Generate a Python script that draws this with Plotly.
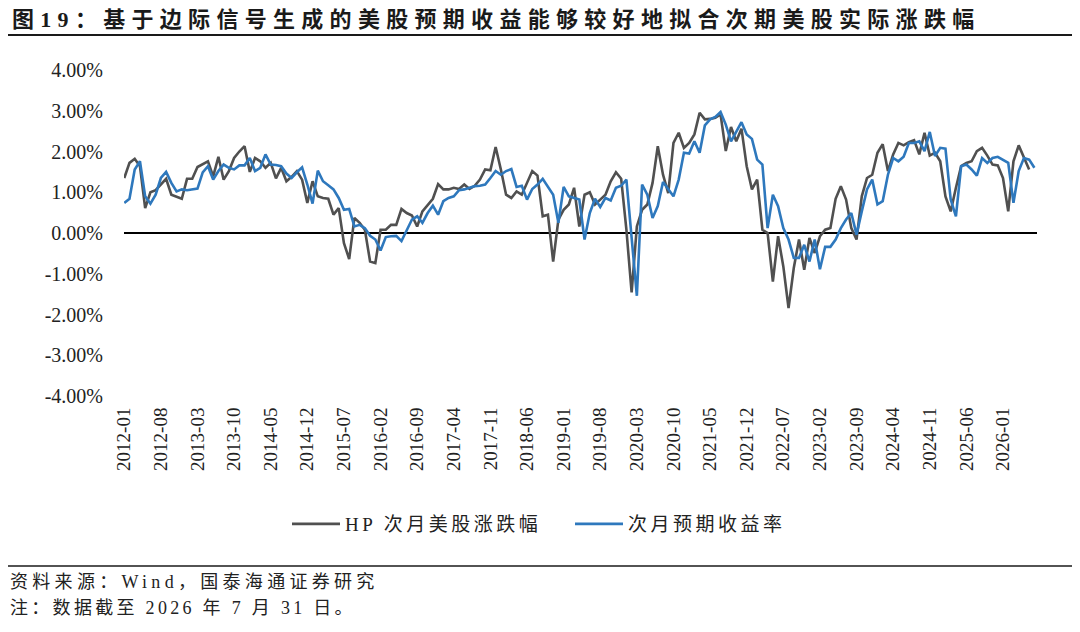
import plotly.graph_objects as go

# ---- categories (monthly, 2012-01 .. 2026-07) ----
months = [f"{y}-{m:02d}" for y in range(2012, 2027) for m in range(1, 13)]
months = months[:months.index("2026-07") + 1]
tick_labels = months[::7]

# ---- series values (%) ----
hp_next_month_return = [
    1.35, 1.72, 1.82, 1.64, 0.61, 1.0, 1.05, 1.19, 1.33, 0.94, 0.88, 0.84, 1.33, 1.33, 1.62, 1.69,
    1.76, 1.39, 1.87, 1.31, 1.52, 1.84, 2.0, 2.13, 1.5, 1.84, 1.76, 1.6,
    1.72, 1.34, 1.6, 1.27, 1.38, 1.52, 1.31, 0.74, 1.27, 0.9, 0.86, 0.84, 0.45, 0.61, -0.25, -0.64,
    0.37, 0.25, 0.08, -0.7, -0.74, 0.08, 0.08, 0.2, 0.2, 0.59, 0.49, 0.43,
    0.16, 0.53, 0.7, 0.84, 1.2, 1.07, 1.07, 1.11, 1.08, 1.19, 1.08, 1.16, 1.31, 1.56, 1.54, 2.11,
    1.56, 0.94, 0.86, 1.02, 0.94, 1.23, 1.52, 1.41, 0.41, 0.45, -0.70, 0.33, 0.57,
    0.7, 1.11, 0.16, 0.94, 1.0, 0.7, 0.82, 0.94, 1.27, 1.49, 1.33, 0.08, -1.46, 0.16, 0.57, 0.7,
    1.23, 2.13, 1.43, 0.98, 2.21, 2.46, 2.09, 2.21, 2.42, 2.95, 2.79, 2.8, 2.83,
    2.91, 2.01, 2.6, 2.25, 2.56, 1.64, 1.07, 1.31, 0.08, 0.0, -1.19, -0.08, -0.82, -1.84, -0.86,
    -0.16, -0.9, -0.12, -0.49, -0.08, 0.08, 0.12, 0.84, 1.15, 0.82, 0.12, -0.16, 0.9, 1.35,
    1.43, 1.97, 2.18, 1.52, 1.93, 2.21, 2.15, 2.23, 2.28, 1.93, 2.46, 1.9, 1.97, 1.76, 0.9, 0.53,
    1.11, 1.64, 1.72, 1.76, 2.01, 2.09, 1.9, 1.68, 1.66, 1.35, 0.53, 1.76, 2.15, 1.84, 1.56,
]

expected_return = [
    0.74, 0.84, 1.56, 1.76, 0.9, 0.72, 0.94, 1.35, 1.5, 1.23, 1.02, 1.07, 1.05, 1.07, 1.09, 1.49,
    1.64, 1.31, 1.52, 1.68, 1.6, 1.56, 1.66, 1.66, 1.84, 1.52, 1.6, 1.93,
    1.68, 1.67, 1.64, 1.46, 1.35, 1.49, 1.61, 1.19, 0.72, 1.53, 1.27, 1.17, 1.07, 0.86, 0.57, 0.59,
    0.16, 0.2, 0.12, -0.07, -0.16, -0.43, -0.1, -0.08, -0.07, -0.2, 0.08, 0.33,
    0.41, 0.25, 0.49, 0.67, 0.45, 0.78, 0.86, 0.9, 1.05, 1.07, 1.11, 1.15, 1.16, 1.19, 1.35, 1.52,
    1.43, 1.52, 1.57, 1.13, 1.16, 0.82, 1.08, 1.19, 1.33, 1.13, 0.94, 0.25, 1.13,
    0.9, 0.86, 0.82, -0.16, 0.49, 0.84, 0.64, 0.86, 0.8, 1.11, 1.16, 1.31, -0.1, -1.54, 1.19, 0.94,
    0.37, 0.66, 1.25, 1.07, 0.9, 1.31, 1.97, 1.95, 2.25, 1.97, 2.64, 2.79, 2.85,
    2.97, 2.66, 2.25, 2.5, 2.72, 2.42, 2.31, 1.8, 1.68, 0.12, 0.94, 0.66, 0.12, -0.16, -0.61,
    -0.61, -0.29, -0.7, -0.16, -0.89, -0.34, -0.34, -0.16, 0.12, 0.33, 0.49, -0.04, 0.53, 1.07,
    1.31, 0.7, 0.78, 1.43, 1.84, 1.76, 1.87, 2.21, 2.21, 2.25, 2.01, 2.48, 1.89, 2.09, 2.07, 0.82,
    0.41, 1.64, 1.68, 1.56, 1.41, 1.84, 1.72, 1.84, 1.87, 1.8, 1.72, 0.74, 1.52, 1.84, 1.8, 1.6,
]

y_ticks = [4, 3, 2, 1, 0, -1, -2, -3, -4]
y_tick_labels = [f"{v:.2f}%" for v in y_ticks]

title_text = "图19：基于边际信号生成的美股预期收益能够较好地拟合次期美股实际涨跌幅"
source_text = "资料来源：Wind，国泰海通证券研究"
note_text = "注：数据截至 2026 年 7 月 31 日。"

SERIF = "Liberation Serif, Noto Sans CJK SC, serif"

# The page shows the figure 8px in from the window corner; plot area in window px:
PX0, PX1, PY0, PY1 = 124, 1037, 70, 396   # left, right, top, bottom (window coords)
OFF = 8
W, H = 1080, 632


def px(x):
    return (x - PX0) / (PX1 - PX0)


def py(y):
    return (PY1 - y) / (PY1 - PY0)


def spaced(text, ls):
    return f'<span style="letter-spacing:{ls}px">{text}</span>'


fig = go.Figure()
fig.add_trace(go.Scatter(
    x=months[:len(hp_next_month_return)], y=hp_next_month_return, mode="lines",
    name=spaced("HP 次月美股涨跌幅", 3.5), line=dict(color="#505050", width=2.6),
))
fig.add_trace(go.Scatter(
    x=months[:len(expected_return)], y=expected_return, mode="lines",
    name=spaced("次月预期收益率", 3.5), line=dict(color="#2E78BD", width=2.6),
))

fig.update_layout(
    width=W, height=H,
    margin=dict(l=PX0 - OFF, r=W - (PX1 - OFF), t=PY0 - OFF, b=H - (PY1 - OFF)),
    paper_bgcolor="white", plot_bgcolor="white",
    font=dict(family=SERIF, size=19, color="#222222"),
    showlegend=True,
    legend=dict(
        orientation="h", x=px(287), xanchor="left", y=py(524), yanchor="middle",
        font=dict(family=SERIF, size=19, color="#222222"),
        entrywidth=220, entrywidthmode="pixels", itemwidth=48,
        bgcolor="rgba(0,0,0,0)",
    ),
)

fig.update_xaxes(
    type="category", range=[-0.05, len(months) - 0.5],
    tickmode="array", tickvals=tick_labels, ticktext=tick_labels,
    tickangle=-90, ticks="outside", ticklen=3, tickcolor="rgba(0,0,0,0)",
    showgrid=False, showline=False, zeroline=False,
    tickfont=dict(family=SERIF, size=19, color="#222222"),
)
fig.update_yaxes(
    range=[-4, 4], tickmode="array", tickvals=y_ticks, ticktext=y_tick_labels,
    ticks="outside", ticklen=16, tickcolor="rgba(0,0,0,0)",
    showgrid=False, showline=False,
    zeroline=True, zerolinecolor="#000000", zerolinewidth=1.6,
    tickfont=dict(family=SERIF, size=20, color="#222222"),
)

# title (as annotation) and rules
fig.add_annotation(text="<b>" + spaced(title_text, 6.3) + "</b>", xref="paper", yref="paper",
                   x=px(10), y=py(19), xanchor="left", yanchor="middle",
                   showarrow=False,
                   font=dict(family="Liberation Serif, Noto Sans CJK SC", size=22, color="#1a1a1a"))
fig.add_shape(type="line", xref="paper", yref="paper",
              x0=px(8), x1=px(1072), y0=py(35), y1=py(35),
              line=dict(color="#1a1a1a", width=2))
fig.add_shape(type="line", xref="paper", yref="paper",
              x0=px(8), x1=px(1072), y0=py(566), y1=py(566),
              line=dict(color="#1a1a1a", width=1.5))

fig.add_annotation(text=spaced(source_text, 4.3), xref="paper", yref="paper",
                   x=px(8), y=py(582), xanchor="left", yanchor="middle",
                   showarrow=False, font=dict(family=SERIF, size=18, color="#222222"))
fig.add_annotation(text=spaced(note_text, 3.3), xref="paper", yref="paper",
                   x=px(8), y=py(608), xanchor="left", yanchor="middle",
                   showarrow=False, font=dict(family=SERIF, size=18, color="#222222"))

fig.write_html("out.html")
